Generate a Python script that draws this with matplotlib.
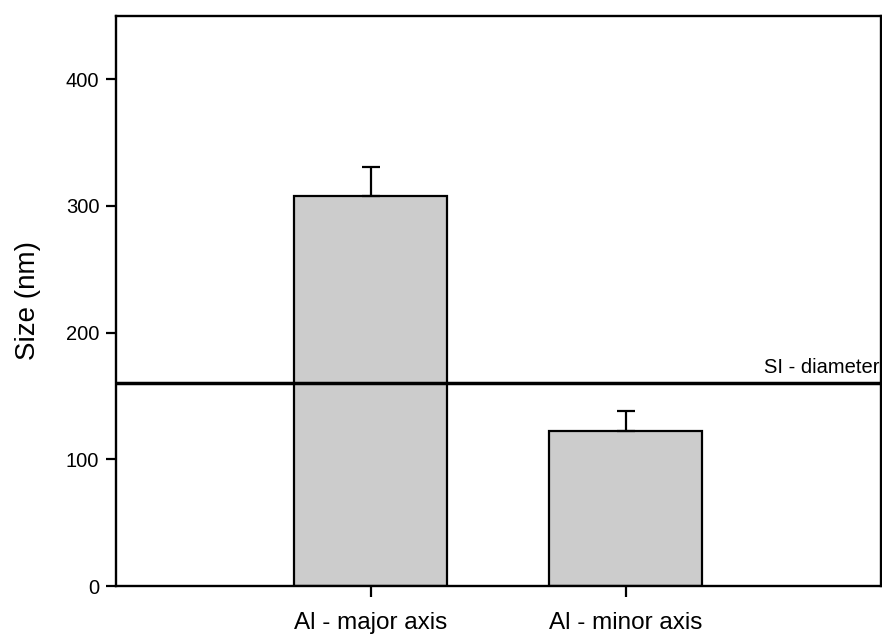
import numpy as np
import matplotlib
matplotlib.use("Agg")
import matplotlib.pyplot as plt

plt.rcParams['font.family'] = ['Liberation Sans', 'DejaVu Sans']

# data
categories = ["Al - major axis", "Al - minor axis"]
sizes = [308, 122]
size_err = [23, 16]
si_diameter = 160

fig = plt.figure(figsize=(8.82, 6.37), dpi=100)
ax = fig.add_axes([0.1315, 0.080, 0.867, 0.895])

x = np.arange(1, len(categories) + 1)
ax.bar(x, sizes, width=0.6, color="#cccccc", edgecolor="black", linewidth=1.6, zorder=2)
ax.errorbar(x, sizes, yerr=[np.zeros(len(sizes)), size_err], fmt="none",
            ecolor="black", elinewidth=1.6, capsize=6.5, capthick=1.6, zorder=3)

# SI diameter reference line
ax.axhline(si_diameter, color="black", linewidth=2.5, zorder=4)
ax.text(2.995, si_diameter + 5, "SI - diameter", ha="right", va="bottom", fontsize=14.5)

ax.set_xlim(0, 3)
ax.set_ylim(0, 450)
ax.set_xticks(x)
ax.set_xticklabels(categories, fontsize=17.5)
ax.set_yticks([0, 100, 200, 300, 400])
ax.tick_params(axis="y", labelsize=14.5, direction="out", length=7, width=1.6, pad=5)
ax.tick_params(axis="x", direction="out", length=8, width=1.6, pad=11)
ax.set_ylabel("Size (nm)", fontsize=20, labelpad=18)

for s in ax.spines.values():
    s.set_linewidth(1.7)

fig.savefig("out.png", dpi=100)
